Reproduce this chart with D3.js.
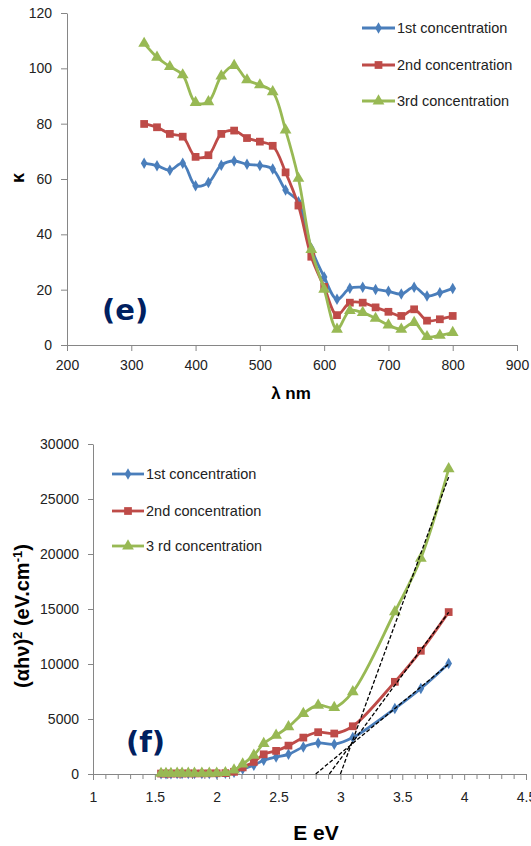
<!DOCTYPE html>
<html>
<head>
<meta charset="utf-8">
<script src="https://cdn.jsdelivr.net/npm/d3@7/dist/d3.min.js"></script>
<style>
  body { margin: 0; background: #fff; }
  svg { display: block; }
  .tick text { font-family: "Liberation Sans", Arial, sans-serif; font-size: 14px; fill: #222; }
  .tick line, .domain { stroke: #868686; }
  .leg { font-family: "Liberation Sans", Arial, sans-serif; font-size: 14.5px; fill: #222; }
  .ttl { font-family: "Liberation Sans", Arial, sans-serif; font-weight: bold; fill: #000; }
  .tag { font-family: "DejaVu Sans", sans-serif; font-weight: bold; fill: #002060; }
</style>
</head>
<body>
<div id="chart"></div>
<script>
// panel (e): extinction coefficient vs wavelength
var wavelength = [320, 340, 360, 380, 400, 420, 440, 460, 480, 500, 520, 540, 560,
	580, 600, 620, 640, 660, 680, 700, 720, 740, 760, 780, 800];
var kappa1 = [65.7, 64.8, 63.2, 65.7, 57.6, 58.7, 65, 66.5, 65.3, 64.9, 63.6, 56, 51.8,
	35, 24.6, 16.5, 20.5, 20.9, 20.1, 19.4, 18.4, 20.9, 17.7, 18.9, 20.4];
var kappa2 = [79.9, 78.7, 76.3, 75.3, 68, 68.6, 76.3, 77.5, 74.8, 73.5, 72, 62.4, 50.4,
	31.9, 21, 10.8, 15.3, 15.3, 13.6, 12, 10.5, 12.9, 8.8, 9.3, 10.5];
var kappa3 = [109, 104, 100.6, 97.6, 87.6, 87.9, 97.2, 101, 95.8, 94, 91.5, 77.7, 60.2,
	34.5, 20.1, 5.7, 12.4, 11.7, 9.6, 7.2, 5.7, 8.1, 3, 3.5, 4.5];
var xTicksE = [200, 300, 400, 500, 600, 700, 800, 900];
var yTicksE = [0, 20, 40, 60, 80, 100, 120];
var legendE = ["1st concentration", "2nd concentration", "3rd concentration"];

// panel (f): (alpha h nu)^2 vs photon energy
var energy = [1.55, 1.59, 1.63, 1.68, 1.72, 1.77, 1.82, 1.88, 1.94, 2.0, 2.07, 2.14,
	2.21, 2.3, 2.38, 2.48, 2.58, 2.7, 2.82, 2.95, 3.1, 3.44, 3.65, 3.875];
var ahv1 = [30, 30, 30, 35, 35, 40, 40, 45, 50, 55, 60, 150,
	450, 800, 1250, 1550, 1790, 2460, 2820, 2700, 3310, 5950, 7770, 10050];
var ahv2 = [40, 40, 40, 45, 45, 50, 50, 55, 60, 65, 80, 200,
	600, 1100, 1790, 2100, 2580, 3310, 3800, 3680, 4340, 8380, 11200, 14720];
var ahv3 = [50, 50, 50, 55, 55, 60, 60, 65, 70, 75, 120, 350,
	900, 1700, 2770, 3520, 4280, 5500, 6250, 6040, 7470, 14750, 19610, 27750];
// tangent lines used for the band gap (start E, end E, end value)
var fitStart = [2.80, 2.91, 3.00];
var fitEnd = [3.875, 3.875, 3.875];
var fitEndValue = [10000, 14700, 27000];
var xTicksF = [1, 1.5, 2, 2.5, 3, 3.5, 4, 4.5];
var yTicksF = [0, 5000, 10000, 15000, 20000, 25000, 30000];
var legendF = ["1st concentration", "2nd concentration", "3 rd concentration"];

var colors = ["#4a7ebb", "#be4b48", "#98b954"];
var symbols = [d3.symbolDiamond, d3.symbolSquare, d3.symbolTriangle];
var symbolSizes = [38, 60, 60];

var width = 531, height = 846;
var svg = d3.select("#chart").append("svg")
	.attr("width", width)
	.attr("height", height);

function drawSeries(g, x, y, xs, ys, i) {
	var pts = xs.map(function (d, k) { return [d, ys[k]]; });
	var line = d3.line()
		.x(function (d) { return x(d[0]); })
		.y(function (d) { return y(d[1]); })
		.curve(d3.curveCatmullRom.alpha(0.5));
	g.append("path")
		.attr("d", line(pts))
		.attr("fill", "none")
		.attr("stroke", colors[i])
		.attr("stroke-width", 2.8);
	g.selectAll(null).data(pts).enter().append("path")
		.attr("d", d3.symbol().type(symbols[i]).size(symbolSizes[i]))
		.attr("transform", function (d) { return "translate(" + x(d[0]) + "," + y(d[1]) + ")"; })
		.attr("fill", colors[i]);
}

function drawLegend(g, labels, x0, x1, ys) {
	labels.forEach(function (t, i) {
		var row = g.append("g");
		row.append("line")
			.attr("x1", x0).attr("x2", x1)
			.attr("y1", ys[i]).attr("y2", ys[i])
			.attr("stroke", colors[i])
			.attr("stroke-width", 2.8);
		row.append("path")
			.attr("d", d3.symbol().type(symbols[i]).size(symbolSizes[i]))
			.attr("transform", "translate(" + (x0 + x1) / 2 + "," + ys[i] + ")")
			.attr("fill", colors[i]);
		row.append("text")
			.attr("class", "leg")
			.attr("x", x1 + 2)
			.attr("y", ys[i] + 5)
			.text(t);
	});
}

// ---------- panel (e) ----------
var xE = d3.scaleLinear().domain([200, 900]).range([67, 517]);
var yE = d3.scaleLinear().domain([0, 120]).range([345, 13]);
var gE = svg.append("g");

gE.append("g")
	.attr("transform", "translate(0," + yE(0) + ")")
	.call(d3.axisBottom(xE).tickValues(xTicksE).tickSize(6).tickSizeOuter(0).tickPadding(9));
gE.append("g")
	.attr("transform", "translate(" + xE(200) + ",0)")
	.call(d3.axisLeft(yE).tickValues(yTicksE).tickSize(6).tickSizeOuter(0).tickPadding(9));

[kappa1, kappa2, kappa3].forEach(function (s, i) { drawSeries(gE, xE, yE, wavelength, s, i); });
drawLegend(gE, legendE, 362, 395, [28, 65, 101]);

gE.append("text").attr("class", "ttl")
	.attr("transform", "translate(24,178) rotate(-90)")
	.attr("text-anchor", "middle")
	.style("font-size", "18px")
	.text("κ");
gE.append("text").attr("class", "ttl")
	.attr("x", 291).attr("y", 399)
	.attr("text-anchor", "middle")
	.style("font-size", "17px")
	.text("λ nm");
gE.append("text").attr("class", "tag")
	.attr("x", 102).attr("y", 320)
	.style("font-size", "29px")
	.text("(e)");

// ---------- panel (f) ----------
var xF = d3.scaleLinear().domain([1, 4.5]).range([93, 526]);
var yF = d3.scaleLinear().domain([0, 30000]).range([774, 444]);
var gF = svg.append("g");

var minor = d3.range(10, 46).map(function (d) { return d / 10; })
	.filter(function (d) { return xTicksF.indexOf(d) < 0; });
gF.append("g")
	.attr("transform", "translate(0," + yF(0) + ")")
	.call(d3.axisBottom(xF).tickValues(minor).tickSize(5).tickFormat(""))
	.call(function (a) { a.select(".domain").remove(); });
gF.append("g")
	.attr("transform", "translate(0," + yF(0) + ")")
	.call(d3.axisBottom(xF).tickValues(xTicksF).tickSize(6).tickSizeOuter(0).tickPadding(12)
		.tickFormat(d3.format("")));
gF.append("g")
	.attr("transform", "translate(" + xF(1) + ",0)")
	.call(d3.axisLeft(yF).tickValues(yTicksF).tickSize(5).tickSizeOuter(0).tickPadding(9)
		.tickFormat(d3.format("d")));

[ahv1, ahv2, ahv3].forEach(function (s, i) { drawSeries(gF, xF, yF, energy, s, i); });

fitStart.forEach(function (e0, i) {
	gF.append("line")
		.attr("x1", xF(e0)).attr("y1", yF(0))
		.attr("x2", xF(fitEnd[i])).attr("y2", yF(fitEndValue[i]))
		.attr("stroke", "#000")
		.attr("stroke-width", 1.3)
		.attr("stroke-dasharray", "4,2");
});

drawLegend(gF, legendF, 112, 144, [474, 511, 546]);

gF.append("text").attr("class", "ttl")
	.attr("transform", "translate(29,616) rotate(-90)")
	.attr("text-anchor", "middle")
	.style("font-size", "20px")
	.html("(αhν)<tspan dy='-7' font-size='13px'>2</tspan><tspan dy='7'> (eV.cm</tspan><tspan dy='-7' font-size='13px'>-1</tspan><tspan dy='7'>)</tspan>");
gF.append("text").attr("class", "ttl")
	.attr("x", 316).attr("y", 840)
	.attr("text-anchor", "middle")
	.style("font-size", "21px")
	.text("E eV");
gF.append("text").attr("class", "tag")
	.attr("x", 126).attr("y", 752)
	.style("font-size", "29px")
	.text("(f)");
</script>
</body>
</html>
